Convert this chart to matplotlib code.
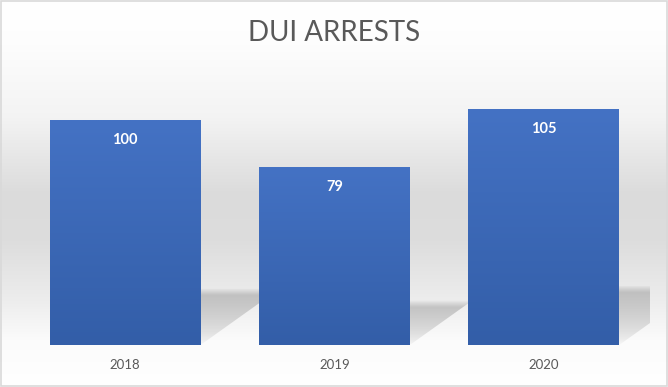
import numpy as np
import matplotlib
matplotlib.use("Agg")
import matplotlib.pyplot as plt
from matplotlib.patches import Rectangle, Polygon
from matplotlib.colors import LinearSegmentedColormap

categories = ["2018", "2019", "2020"]
values = [100, 79, 105]
title = "DUI ARRESTS"

W, H = 668, 387
fig = plt.figure(figsize=(W / 100, H / 100), dpi=100)

# background gradient over the whole figure
bg = fig.add_axes([0, 0, 1, 1], zorder=0)
bg.set_axis_off()
ys = np.linspace(0, 1, 400)  # 0 = top
stops_y = [0.0, 0.10, 0.30, 0.50, 0.62, 0.78, 0.88, 1.0]
stops_v = [1.0, 0.995, 0.955, 0.86, 0.865, 0.93, 0.985, 1.0]
prof = np.interp(ys, stops_y, stops_v)
img = np.repeat(prof[:, None], 2, axis=1)
bg.imshow(np.dstack([img, img, img]), aspect="auto", extent=[0, 1, 0, 1], origin="upper")
bg.set_xlim(0, 1); bg.set_ylim(0, 1)
bg.add_patch(Rectangle((0.0008, 0.0015), 0.9984, 0.997, fill=False, ec="#d9d9d9", lw=1.2,
                       transform=bg.transAxes))

# plot axes
left_px, right_px = 20.5, 650
base_px, top_px = 345, 75
ax = fig.add_axes([left_px / W, (H - base_px) / H, (right_px - left_px) / W, (base_px - top_px) / H],
                  zorder=1)
ax.patch.set_alpha(0)
xmax = 2.5 + 1.5 / 209.0
ax.set_xlim(-0.5, xmax)
ax.set_ylim(0, 120)
for s in ax.spines.values():
    s.set_visible(False)
ax.set_yticks([])
ax.set_xticks(range(len(categories)))
ax.set_xticklabels(categories, fontsize=9.5, color="#595959", family="Lato")
ax.tick_params(axis="x", length=0, pad=10)

bw = 0.72
px_per_x = 209.0
px_per_y = (base_px - top_px) / 120.0

# shadows (soft, darker toward the top)
for i, v in enumerate(values):
    sh_h = 0.25 * v
    dx = 1.4 * sh_h * px_per_y / px_per_x
    x0, x1 = i - bw / 2, i + bw / 2
    poly = Polygon([(x0, 0), (x1, 0), (x1 + dx, sh_h), (x0 + dx, sh_h)], closed=True,
                   fc="none", ec="none")
    ax.add_patch(poly)
    n = 200
    t = np.linspace(0, 1, n)  # 0 bottom, 1 top
    hpx = sh_h * px_per_y
    a = 0.48 * np.power(t, 0.55)
    soft = np.clip((1 - t) * hpx / 7.0, 0, 1)  # soft top edge (~7px)
    a = a * soft
    rgba = np.zeros((n, 2, 4))
    rgba[..., :3] = 0.55
    rgba[..., 3] = a[:, None]
    im = ax.imshow(rgba, aspect="auto", extent=[x0, x1 + dx, 0, sh_h], origin="lower",
                   zorder=2, interpolation="bilinear")
    im.set_clip_path(poly)

# bars with vertical gradient
bar_cmap = LinearSegmentedColormap.from_list("bar", ["#335ea8", "#4472c4"])
for i, v in enumerate(values):
    x0 = i - bw / 2
    rect = Rectangle((x0, 0), bw, v, fc="none", ec="none")
    ax.add_patch(rect)
    grad = np.linspace(0, 1, 100)[:, None]
    im = ax.imshow(np.repeat(grad, 2, axis=1), cmap=bar_cmap, aspect="auto",
                   extent=[x0, x0 + bw, 0, v], origin="lower", zorder=3,
                   interpolation="bilinear")
    im.set_clip_path(rect)
    ax.annotate(str(v), xy=(i, v), xytext=(0, -14.5), textcoords="offset points",
                ha="center", va="center", color="white", fontsize=10.5,
                fontweight="bold", family="Lato", zorder=4)

ax.set_xlim(-0.5, xmax)
ax.set_ylim(0, 120)

fig.text(334 / W, 1 - 33 / H, title, ha="center", va="center", fontsize=20,
         color="#595959", family="Lato", zorder=5)

fig.savefig("out.png", dpi=100)
